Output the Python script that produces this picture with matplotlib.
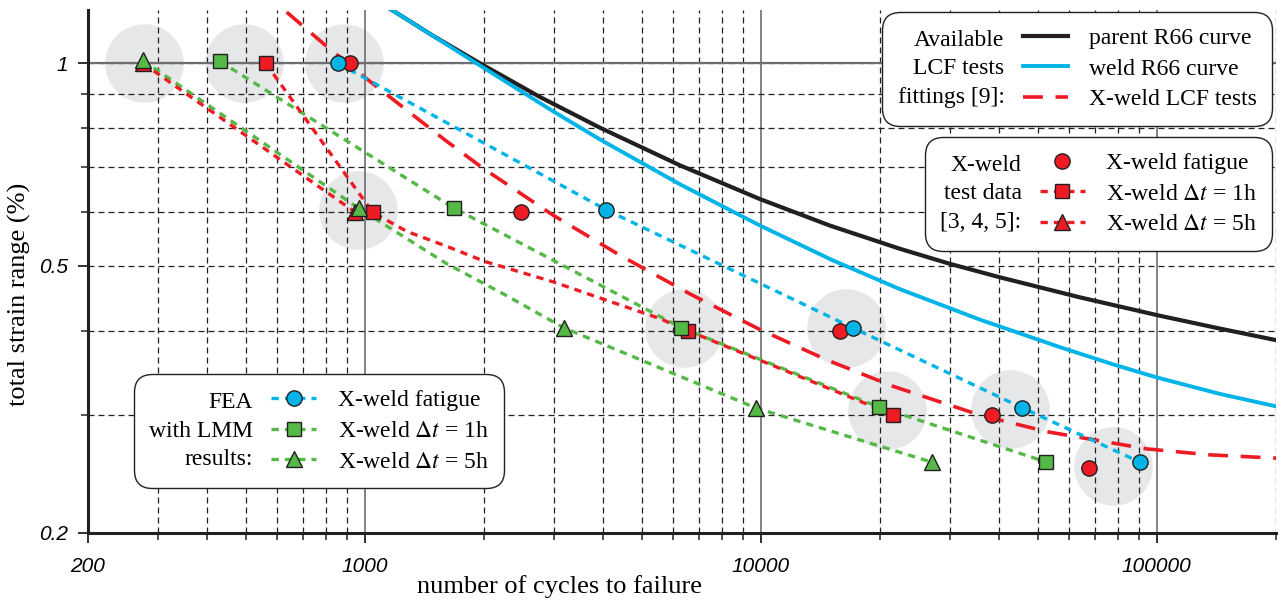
import numpy as np
import matplotlib.pyplot as plt
from matplotlib.lines import Line2D
from matplotlib.legend import Legend
from matplotlib.offsetbox import HPacker

plt.rcParams['font.family'] = ['Liberation Serif', 'DejaVu Serif']
plt.rcParams['mathtext.fontset'] = 'stix'

RED = '#ed1c24'
CYAN = '#00b4e8'
GREEN = '#55b947'
BLACK = '#231f20'
HALO = '#e6e7e8'
EDGE = '#231f20'

# LCF fittings (cycles, total strain range %)
parent_n = [1130, 1485, 1952, 2766, 3921, 6244, 9943, 14940, 22440, 30010, 40130,
            63920, 101760, 144250, 204500]
parent_e = [1.216, 1.099, 1.0, 0.891, 0.802, 0.705, 0.628, 0.5734, 0.5296, 0.503, 0.4803,
            0.4484, 0.421, 0.4029, 0.3862]
weld_n = [1130, 1485, 1952, 2983, 3921, 6244, 9943, 15195, 22440, 35730, 56900,
          77450, 100000, 144250, 204500]
weld_e = [1.216, 1.0986, 0.9925, 0.8487, 0.7705, 0.6607, 0.5736, 0.509, 0.4612, 0.4155, 0.3781,
          0.3565, 0.3408, 0.3221, 0.3078]
lcf_n = [635, 793, 1012, 1592, 1986, 2984, 4405, 6618, 9943, 14678, 21544, 35730,
         52750, 94350, 136100, 204500]
lcf_e = [1.1913, 1.0648, 0.9475, 0.7691, 0.6982, 0.5945, 0.5181, 0.4538, 0.4016, 0.3619,
         0.3307, 0.2996, 0.283, 0.2668, 0.2614, 0.2583]

# X-weld test data
test_fat_n = [916, 2477, 15830, 38460, 67300]
test_fat_e = [1.0, 0.6, 0.4, 0.3, 0.25]
test_1h_n = [562, 1047, 6541, 21540]
test_1h_e = [1.0, 0.6, 0.4, 0.3]
test_5h_n = [275, 947]
test_5h_e = [1.0, 0.6]
# fitted trend through the 1h test points
test_1h_fit_n = [562, 1047, 1277, 1611, 2010, 2985, 4406, 5559, 6541, 21540]
test_1h_fit_e = [1.0, 0.6, 0.562, 0.534, 0.507, 0.473, 0.437, 0.417, 0.4, 0.3]

# FEA with LMM results
fea_fat_n = [854, 4073, 17060, 45800, 90600]
fea_fat_e = [1.0, 0.605, 0.404, 0.307, 0.255]
fea_1h_n = [430, 1677, 6303, 19860, 52660]
fea_1h_e = [1.007, 0.609, 0.404, 0.308, 0.255]
fea_5h_n = [275, 966, 3181, 9710, 27000]
fea_5h_e = [1.01, 0.608, 0.404, 0.307, 0.255]
fea_5h_fit_n = [275, 966, 1611, 2257, 3181, 9710, 27000]
fea_5h_fit_e = [1.01, 0.608, 0.503, 0.4525, 0.404, 0.307, 0.255]

# grey discs grouping comparable test / FEA points
halo_n = [277, 495, 885, 960, 6390, 16390, 20800, 42550, 77420]
halo_e = [1.0, 1.0, 1.0, 0.604, 0.403, 0.403, 0.305, 0.306, 0.252]

DOT = (0, (2.2, 1.8))
DASH = (0, (5.5, 3.5))

fig = plt.figure(figsize=(12.85, 6.01), dpi=100)
ax = fig.add_axes([88 / 1285, 68 / 601, 1188 / 1285, 523 / 601])
ax.set_xscale('log')
ax.set_yscale('log')
ax.set_xlim(200, 2e5)
ax.set_ylim(0.2, 1.2)

for s in ('top', 'right'):
    ax.spines[s].set_visible(False)
for s in ('left', 'bottom'):
    ax.spines[s].set_linewidth(2.2)
    ax.spines[s].set_color(BLACK)

tick_font = dict(family='Liberation Sans', style='italic', size=15)
ax.set_xticks([200, 1000, 10000, 100000], labels=['200', '1000', '10000', '100000'], **tick_font)
ax.set_xticks([k * 10 ** d for d in (2, 3, 4, 5) for k in range(2, 10)
               if 200 < k * 10 ** d <= 2e5], minor=True)
ax.set_yticks([0.2, 0.5, 1], labels=['0.2', '0.5', '1'], **tick_font)
ax.set_yticks([0.3, 0.4, 0.6, 0.7, 0.8, 0.9], minor=True)
ax.yaxis.set_minor_formatter(plt.NullFormatter())
ax.xaxis.set_minor_formatter(plt.NullFormatter())
ax.tick_params(which='major', direction='out', length=7, width=1.3, color=BLACK)
ax.tick_params(which='minor', direction='out', length=5, width=1.1, color=BLACK)
ax.tick_params(axis='x', which='major', pad=10)
ax.tick_params(axis='y', which='major', pad=7)

ax.set_axisbelow(True)
ax.xaxis.grid(True, which='major', color='#6d6e71', lw=1.2, ls='-')
ax.xaxis.grid(True, which='minor', color=BLACK, lw=0.9, ls=(0, (4.8, 3.2)))
ax.yaxis.grid(True, which='both', color=BLACK, lw=0.9, ls=(0, (4.8, 3.2)))
ax.axhline(1.0, color='#6d6e71', lw=1.6, zorder=0.6)

ax.scatter(halo_n, halo_e, s=3200, color=HALO, linewidths=0, zorder=0.2)

ax.plot(parent_n, parent_e, color=BLACK, lw=3.0, zorder=3)
ax.plot(weld_n, weld_e, color=CYAN, lw=2.8, zorder=3)
ax.plot(lcf_n, lcf_e, color=RED, lw=2.6, ls=DASH, zorder=3)

ax.plot(fea_fat_n, fea_fat_e, color=CYAN, lw=2.4, ls=DOT, zorder=3)
ax.plot(fea_1h_n, fea_1h_e, color=GREEN, lw=2.4, ls=DOT, zorder=3)
ax.plot(fea_5h_fit_n, fea_5h_fit_e, color=GREEN, lw=2.4, ls=DOT, zorder=3)
ax.plot(test_5h_n, test_5h_e, color=RED, lw=2.4, ls=DOT, zorder=3)
ax.plot(test_1h_fit_n, test_1h_fit_e, color=RED, lw=2.4, ls=DOT, zorder=3)

mk = dict(ls='none', mec=EDGE, mew=1.0, zorder=6)
ax.plot(test_fat_n, test_fat_e, marker='o', ms=11, mfc=RED, **mk)
ax.plot(test_1h_n, test_1h_e, marker='s', ms=10, mfc=RED, **mk)
ax.plot(test_5h_n, test_5h_e, marker='^', ms=11, mfc=RED, **mk)
ax.plot(fea_fat_n, fea_fat_e, marker='o', ms=11, mfc=CYAN, **mk)
ax.plot(fea_1h_n, fea_1h_e, marker='s', ms=10, mfc=GREEN, **mk)
ax.plot(fea_5h_n, fea_5h_e, marker='^', ms=11, mfc=GREEN, **mk)

ax.set_xlabel('number of cycles to failure', fontsize=19)
ax.xaxis.set_label_coords(0.397, -0.103)
ax.xaxis.label.set_verticalalignment('center')
ax.set_ylabel('total strain range (%)', fontsize=19)
ax.yaxis.set_label_coords(-0.058, 0.456)
ax.yaxis.label.set_verticalalignment('center')


def side_legend(handles, labels, title, **kw):
    leg = Legend(ax, handles, labels, title=title, fontsize=17, title_fontsize=17,
                 frameon=True, fancybox=True, framealpha=1, edgecolor=BLACK,
                 borderpad=0.65, labelspacing=0.39, handlelength=1.9,
                 handletextpad=0.9, borderaxespad=0, bbox_transform=fig.transFigure, **kw)
    leg.get_title().set_multialignment('right')
    leg.get_title().set_linespacing(1.46)
    # put the title to the left of the entries instead of on top
    title_box, entries = leg._legend_box.get_children()
    box = HPacker(pad=leg.borderpad * leg._fontsize, sep=13, align='center',
                  children=[title_box, entries])
    box.set_figure(fig)
    box.axes = ax
    leg._legend_box = box
    box.set_offset(leg._findoffset)
    leg.get_frame().set_boxstyle('round,pad=0,rounding_size=0.75')
    leg.get_frame().set_linewidth(1.0)
    leg.set_zorder(10)
    ax.add_artist(leg)
    return leg


side_legend(
    [Line2D([], [], color=BLACK, lw=3.0),
     Line2D([], [], color=CYAN, lw=2.8),
     Line2D([], [], color=RED, lw=2.6, ls=DASH)],
    ['parent R66 curve', 'weld R66 curve', 'X-weld LCF tests'],
    'Available\nLCF tests\nfittings [9]:',
    loc='upper right', bbox_to_anchor=(1272 / 1285, 1 - 12 / 601))

side_legend(
    [Line2D([], [], ls='none', marker='o', ms=11, mfc=RED, mec=EDGE),
     Line2D([], [], color=RED, lw=2.4, ls=DOT, marker='s', ms=10, mfc=RED, mec=EDGE),
     Line2D([], [], color=RED, lw=2.4, ls=DOT, marker='^', ms=11, mfc=RED, mec=EDGE)],
    ['X-weld fatigue', r'X-weld $\Delta t$ = 1h', r'X-weld $\Delta t$ = 5h'],
    'X-weld\ntest data\n[3, 4, 5]:',
    loc='upper right', bbox_to_anchor=(1272 / 1285, 1 - 137 / 601))

side_legend(
    [Line2D([], [], color=CYAN, lw=2.4, ls=DOT, marker='o', ms=11, mfc=CYAN, mec=EDGE),
     Line2D([], [], color=GREEN, lw=2.4, ls=DOT, marker='s', ms=10, mfc=GREEN, mec=EDGE),
     Line2D([], [], color=GREEN, lw=2.4, ls=DOT, marker='^', ms=11, mfc=GREEN, mec=EDGE)],
    ['X-weld fatigue', r'X-weld $\Delta t$ = 1h', r'X-weld $\Delta t$ = 5h'],
    'FEA\nwith LMM\nresults:',
    loc='lower left', bbox_to_anchor=(134 / 1285, 1 - 488 / 601))

fig.savefig('out.png', dpi=100)
